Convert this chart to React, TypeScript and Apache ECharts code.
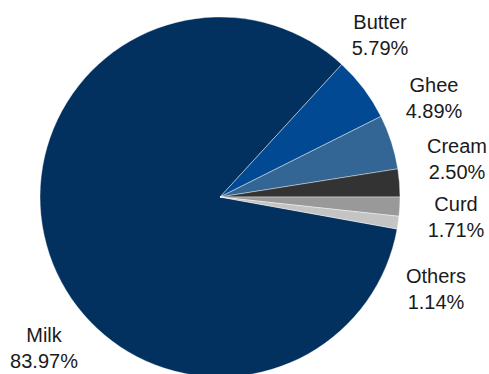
import React, { useEffect, useRef } from "react";
import * as echarts from "echarts";

const categories = ["Milk", "Butter", "Ghee", "Cream", "Curd", "Others"];
const shares = [83.97, 5.79, 4.89, 2.5, 1.71, 1.14];
const colors = ["#02315f", "#014a93", "#336595", "#333333", "#999999", "#c4c4c4"];
// label block centres (layout only)
const labelPos: [number, number][] = [
  [44, 348],
  [380, 35],
  [434, 98],
  [457, 159],
  [456, 217],
  [436, 289],
];

export default function App() {
  const ref = useRef<HTMLDivElement>(null);
  useEffect(() => {
    if (!ref.current) return;
    const chart = echarts.init(ref.current, undefined, { renderer: "svg" });
    const startAngle = 360 - (shares[4] + shares[5]) * 3.6;
    chart.setOption({
      animation: false,
      backgroundColor: "#ffffff",
      series: [
        {
          type: "pie",
          center: [220, 197],
          radius: 180,
          startAngle,
          clockwise: true,
          avoidLabelOverlap: false,
          data: categories.map((c, i) => ({
            name: c,
            value: shares[i],
            itemStyle: { color: colors[i] },
          })),
          itemStyle: { borderColor: "#ffffff", borderWidth: 0.4 },
          label: {
            show: true,
            position: "outside",
            formatter: (p: any) => `${p.name}\n${shares[p.dataIndex].toFixed(2)}%`,
            fontFamily: "Liberation Sans, Arial, sans-serif",
            fontSize: 20,
            lineHeight: 26,
            color: "#1a1a1a",
            align: "center",
          },
          labelLine: { show: false },
          labelLayout: (params: any) => {
            const pos = labelPos[params.dataIndex];
            return { x: pos[0], y: pos[1], align: "center", verticalAlign: "middle" };
          },
          emphasis: { disabled: true },
        },
      ],
    });
    return () => chart.dispose();
  }, []);
  return (
    <div
      ref={ref}
      style={{ position: "fixed", left: 0, top: 0, width: 489, height: 374 }}
    />
  );
}
